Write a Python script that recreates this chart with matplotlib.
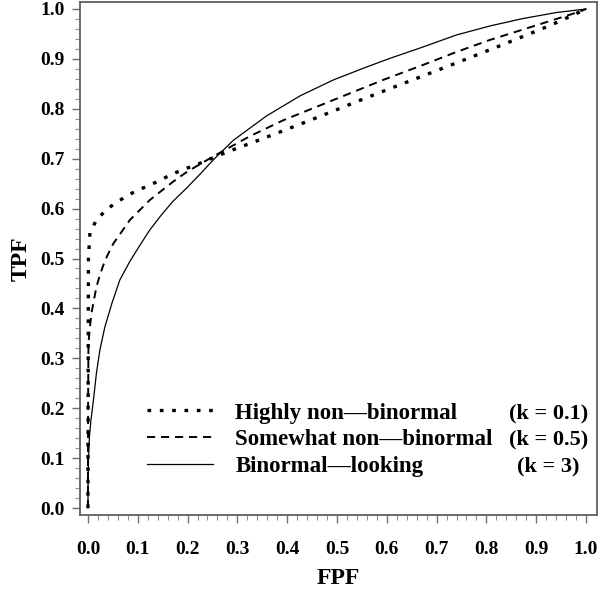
import numpy as np
import matplotlib
matplotlib.use("Agg")
import matplotlib.pyplot as plt

plt.rcParams['font.family'] = ['Liberation Serif', 'DejaVu Serif']
plt.rcParams['font.weight'] = 'bold'

# highly non-binormal (k = 0.1)
fpf_k01 = [0.0, 0.0005, 0.001, 0.004, 0.017, 0.038, 0.063, 0.084, 0.110, 0.137,
           0.161, 0.185, 0.215, 0.238, 0.258, 0.289, 0.345, 0.392, 0.446, 0.499,
           0.546, 0.600, 0.673, 0.727, 0.781, 0.834, 0.881, 0.928, 0.985, 1.0]
tpf_k01 = [0.0, 0.30, 0.50, 0.552, 0.577, 0.599, 0.616, 0.629, 0.641, 0.653,
           0.665, 0.676, 0.687, 0.696, 0.705, 0.717, 0.738, 0.756, 0.777, 0.798,
           0.817, 0.838, 0.866, 0.887, 0.908, 0.929, 0.948, 0.967, 0.993, 1.0]

# somewhat non-binormal (k = 0.5)
fpf_k05 = [0.0, 0.0003, 0.001, 0.004, 0.007, 0.012, 0.017, 0.024, 0.031, 0.038,
           0.051, 0.068, 0.084, 0.104, 0.124, 0.148, 0.171, 0.195, 0.218, 0.242,
           0.265, 0.325, 0.392, 0.459, 0.526, 0.593, 0.673, 0.740, 0.807, 0.874,
           0.934, 0.988, 1.0]
tpf_k05 = [0.0, 0.20, 0.33, 0.363, 0.390, 0.417, 0.443, 0.467, 0.487, 0.504,
           0.530, 0.554, 0.577, 0.597, 0.617, 0.636, 0.654, 0.671, 0.685, 0.699,
           0.712, 0.745, 0.777, 0.804, 0.831, 0.858, 0.888, 0.914, 0.938, 0.959,
           0.978, 0.995, 1.0]

# binormal-looking (k = 3)
fpf_k3 = [0.0, 0.0003, 0.001, 0.003, 0.006, 0.011, 0.017, 0.024, 0.034, 0.048,
          0.064, 0.084, 0.104, 0.124, 0.148, 0.171, 0.198, 0.225, 0.252, 0.292,
          0.359, 0.426, 0.493, 0.560, 0.606, 0.673, 0.740, 0.807, 0.874, 0.941, 1.0]
tpf_k3 = [0.0, 0.05, 0.096, 0.143, 0.176, 0.216, 0.270, 0.317, 0.363, 0.410,
          0.457, 0.494, 0.526, 0.557, 0.588, 0.615, 0.641, 0.669, 0.698, 0.737,
          0.786, 0.826, 0.858, 0.884, 0.901, 0.924, 0.948, 0.966, 0.981, 0.993, 1.0]

labels = ["Highly non\u2014binormal", "Somewhat non\u2014binormal", "Binormal\u2014looking"]
k_labels = ["(k = 0.1)", "(k = 0.5)", "(k = 3)"]

fig = plt.figure(figsize=(6.0, 5.9), dpi=100)
ax = fig.add_axes([0.1333, 0.1271, 0.8617, 0.8695])

ax.plot(fpf_k01, tpf_k01, color='black', lw=2.4, linestyle=(0, (1.1, 2.6)),
        dash_capstyle='butt', label=labels[0])
ax.plot(fpf_k05, tpf_k05, color='black', lw=1.4, linestyle=(0, (4.2, 3.0)),
        dash_capstyle='butt', label=labels[1])
ax.plot(fpf_k3, tpf_k3, color='black', lw=0.9, label=labels[2])

ax.set_xlim(-0.016, 1.022)
ax.set_ylim(-0.014, 1.014)

ticks = np.arange(0, 1.01, 0.1)
ax.set_xticks(ticks)
ax.set_yticks(ticks)
ax.set_xticks(np.arange(0, 1.001, 0.02), minor=True)
ax.set_yticks(np.arange(0, 1.001, 0.02), minor=True)
ax.set_xticklabels([f"{t:.1f}" for t in ticks], fontsize=14, fontweight='bold')
ax.set_yticklabels([f"{t:.1f}" for t in ticks], fontsize=14, fontweight='bold')

for s in ax.spines.values():
    s.set_color('#606060')
    s.set_linewidth(1.3)
ax.tick_params(which='major', length=6, width=1.0, color='#707070')
ax.tick_params(axis='y', which='major', pad=5)
ax.tick_params(axis='x', which='major', pad=13)
ax.tick_params(which='minor', length=3.5, width=0.8, color='#909090')

ax.set_xlabel("FPF", fontsize=17, fontweight='bold', labelpad=7)
ax.set_ylabel("TPF", fontsize=17, fontweight='bold', labelpad=6)

leg = ax.legend(loc='lower left', bbox_to_anchor=(0.13, 0.074), frameon=False,
                fontsize=16.5, handlelength=2.85, handletextpad=1.0,
                labelspacing=0.25, borderaxespad=0, borderpad=0)
for t in leg.get_texts():
    t.set_fontweight('bold')

k_y = [0.180, 0.128, 0.074]
for lab, yy in zip(k_labels, k_y):
    ax.text(0.924, yy, lab, ha='center', va='baseline', fontsize=16,
            fontweight='bold')

fig.savefig("out.png", dpi=100)
